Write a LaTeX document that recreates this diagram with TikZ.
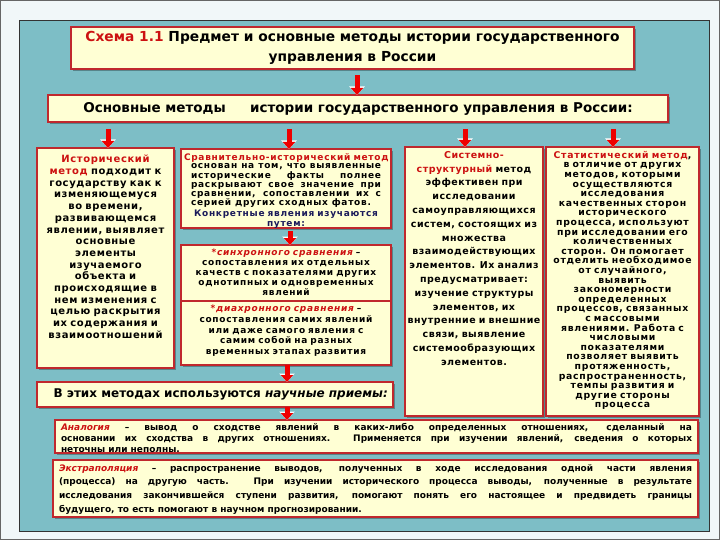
\documentclass[tikz,border=0pt]{standalone}
\usepackage{fontspec}
\setmainfont{DejaVu Sans}
\newfontfamily\lsA[LetterSpace=6]{DejaVu Sans}
\newfontfamily\lsB[LetterSpace=8]{DejaVu Sans}
\newfontfamily\lsC[LetterSpace=5]{DejaVu Sans}
\newfontfamily\lsD[LetterSpace=8]{DejaVu Sans}
\usetikzlibrary{arrows.meta,shadows}
\definecolor{pagebg}{HTML}{F1F7F9}
\definecolor{teal1}{HTML}{7DBEC6}
\definecolor{cream}{HTML}{FFFFD4}
\definecolor{bord}{HTML}{C0282D}
\definecolor{hred}{HTML}{CC1111}
\definecolor{navy}{HTML}{1A1A5A}
\definecolor{arrred}{HTML}{EE0000}
\begin{document}
\begin{tikzpicture}[x=1pt,y=-1pt,
  box/.style={draw=bord, line width=2pt, fill=cream, inner sep=0pt, outer sep=0pt, anchor=north west,
    drop shadow={shadow xshift=2pt,shadow yshift=-2pt,fill=black,opacity=0.3}},
  txt/.style={inner sep=0pt, anchor=north, align=center},
  redarr/.style={draw=arrred, line width=5pt, -{Triangle[width=12pt,length=7pt]},
    preaction={draw=white, line width=5pt, -{Triangle[width=15pt,length=8.5pt]}}}]
\useasboundingbox (0,0) rectangle (720,540);
\fill[pagebg] (0,0) rectangle (720,540);
\draw[black!60, line width=1pt] (0.5,0.5) rectangle (719.5,539.5);
\fill[teal1] (19,20) rectangle (709,531);
\draw[black!80, line width=0.8pt] (19,20) rectangle (709,531);

% title
\node[box, minimum width=563pt, minimum height=42pt, align=center,
  font=\bfseries\fontsize{13.8}{20}\selectfont] (title) at (71,27)
  {\textcolor{hred}{Схема 1.1} Предмет и основные методы истории государственного\\ управления в России};

% header
\node[box, minimum width=620pt, minimum height=27pt,
  font=\bfseries\fontsize{13.5}{15}\selectfont] (hdr) at (48,95)
  {Основные методы\hspace{1.8em}истории государственного управления в России:};

% columns
\node[box, minimum width=137pt, minimum height=220pt] (c1) at (37,148) {};
\node[box, minimum width=210pt, minimum height=79pt] (c2) at (181,149) {};
\node[box, minimum width=210pt, minimum height=120pt] (c2s) at (181,245) {};
\node[box, minimum width=138pt, minimum height=269pt] (c3) at (405,147) {};
\node[box, minimum width=153pt, minimum height=269pt] (c4) at (546,147) {};
\node[box, minimum width=356pt, minimum height=25pt] (sci) at (37,382) {};
\node[box, minimum width=643pt, minimum height=33pt] (an) at (55,420) {};
\node[box, minimum width=645pt, minimum height=57pt] (ex) at (53,460) {};

\coordinate (dl) at (181,301);
\coordinate (dr) at (391,301);
\draw[bord, line width=2pt] (dl) -- (dr);

% column 1
\node[txt, text width=134pt, font=\lsA\bfseries\fontsize{10}{11.7}\selectfont] (c1t) at ([yshift=-7pt]c1.north)
{\textcolor{hred}{Исторический}\\ \textcolor{hred}{метод} подходит к\\ государству как к\\ изменяющемуся\\ во времени,\\ развивающемся\\ явлении, выявляет\\ основные\\ элементы\\ изучаемого\\ объекта и\\ происходящие в\\ нем изменения с\\ целью раскрытия\\ их содержания и\\ взаимоотношений};

% column 2
\node[txt, text width=204pt, font=\lsB\bfseries\fontsize{9}{9.2}\selectfont] (c2h) at ([yshift=-4pt]c2.north)
{\textcolor{hred}{Сравнительно-исторический метод}};
\node[txt, text width=190pt, align=justify, font=\lsB\bfseries\fontsize{9}{9.2}\selectfont] (c2j) at ([yshift=-1.5pt]c2h.south)
{основан на том, что выявленные\linebreak исторические факты полнее\linebreak раскрывают свое значение при\linebreak сравнении, сопоставлении их с\linebreak серией других сходных фатов.};
\node[txt, text width=204pt, font=\lsB\bfseries\fontsize{9}{10}\selectfont] (c2n) at ([yshift=-1.5pt]c2j.south)
{\textcolor{navy}{Конкретные явления изучаются}\\ \textcolor{navy}{путем:}};

\node[txt, text width=204pt, font=\lsB\bfseries\fontsize{9}{9.9}\selectfont] (c2at) at ([yshift=-4pt]c2s.north)
{\textcolor{hred}{\itshape *синхронного сравнения} –\\ сопоставления их отдельных\\ качеств с показателями других\\ однотипных и одновременных\\ явлений};

\coordinate (c2b) at (286,305);
\node[txt, text width=204pt, font=\lsB\bfseries\fontsize{9}{10.6}\selectfont] (c2bt) at (c2b)
{\textcolor{hred}{\itshape *диахронного сравнения} –\\ сопоставления самих явлений\\ или даже самого явления с\\ самим собой на разных\\ временных этапах развития};

% column 3
\node[txt, text width=160pt, font=\lsC\bfseries\fontsize{9.5}{13.8}\selectfont] (c3t) at ([yshift=-4pt]c3.north)
{\textcolor{hred}{Системно-}\\ \textcolor{hred}{структурный} метод\\ эффективен при\\ исследовании\\ самоуправляющихся\\ систем, состоящих из\\ множества\\ взаимодействующих\\ элементов. Их анализ\\ предусматривает:\\ изучение структуры\\ элементов, их\\ внутренние и внешние\\ связи, выявление\\ системообразующих\\ элементов.};

% column 4
\node[txt, text width=170pt, font=\lsD\bfseries\fontsize{9.3}{9.6}\selectfont] (c4t) at ([yshift=-4pt]c4.north)
{\textcolor{hred}{Статистический метод},\\ в отличие от других\\ методов, которыми\\ осуществляются\\ исследования\\ качественных сторон\\ исторического\\ процесса, используют\\ при исследовании его\\ количественных\\ сторон. Он помогает\\ отделить необходимое\\ от случайного,\\ выявить\\ закономерности\\ определенных\\ процессов, связанных\\ с массовыми\\ явлениями. Работа с\\ числовыми\\ показателями\\ позволяет выявить\\ протяженность,\\ распространенность,\\ темпы развития и\\ другие стороны\\ процесса};

\node[inner sep=0pt, anchor=east, font=\bfseries\fontsize{12}{14}\selectfont] (scit) at ([xshift=-5pt]sci.east)
{В этих методах используются \textit{научные приемы:}};

\node[txt, text width=631pt, align=justify, font=\bfseries\fontsize{9}{11}\selectfont] (ant) at ([yshift=-3pt]an.north)
{\textcolor{hred}{\itshape Аналогия} – вывод о сходстве явлений в каких-либо определенных отношениях, сделанный на\linebreak основании их сходства в других отношениях. Применяется при изучении явлений, сведения о которых\linebreak неточны или неполны.};

\node[txt, text width=633pt, align=justify, font=\bfseries\fontsize{9}{13.8}\selectfont] (ext) at ([yshift=-4pt]ex.north)
{\textcolor{hred}{\itshape Экстраполяция} – распространение выводов, полученных в ходе исследования одной части явления\linebreak (процесса) на другую часть. При изучении исторического процесса выводы, полученные в результате\linebreak исследования закончившейся ступени развития, помогают понять его настоящее и предвидеть границы\linebreak будущего, то есть помогают в научном прогнозировании.};

% arrows
\coordinate (a0) at (357,0);
\coordinate (a1) at (108,0);
\coordinate (a2) at (289,0);
\coordinate (a3) at (465,0);
\coordinate (a4) at (613,0);
\coordinate (a5) at (290,0);
\coordinate (a6) at (287,0);
\draw[redarr] ([yshift=-6pt]title.south -| a0) -- (hdr.north -| a0);
\draw[redarr] ([yshift=-7pt]hdr.south -| a1) -- (c1.north -| a1);
\draw[redarr] ([yshift=-7pt]hdr.south -| a2) -- (c2.north -| a2);
\draw[redarr] ([yshift=-7pt]hdr.south -| a3) -- (c3.north -| a3);
\draw[redarr] ([yshift=-7pt]hdr.south -| a4) -- (c4.north -| a4);
\draw[redarr] ([yshift=-3pt]c2.south -| a5) -- (c2s.north -| a5);
\draw[redarr] (c2s.south -| a6) -- (sci.north -| a6);
\draw[redarr] (sci.south -| a6) -- (an.north -| a6);
\end{tikzpicture}
\end{document}
